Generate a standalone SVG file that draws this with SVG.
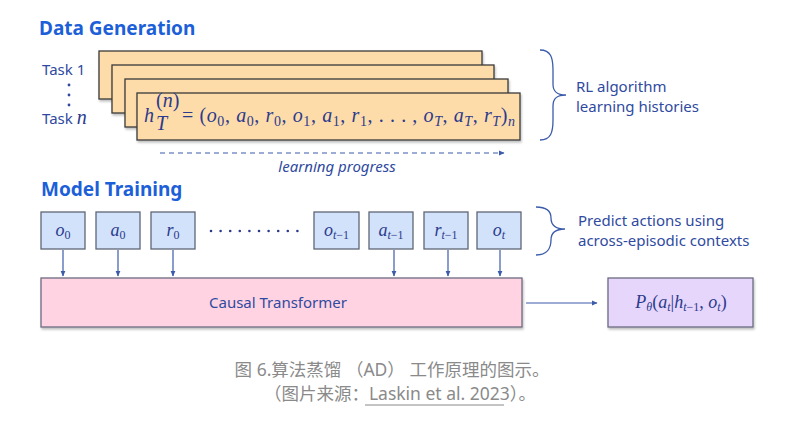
<svg xmlns="http://www.w3.org/2000/svg" width="809" height="423" viewBox="0 0 809 423">
<defs>
<filter id="sh" x="-5%" y="-10%" width="110%" height="130%">
<feDropShadow dx="1" dy="2" stdDeviation="1.2" flood-color="#000" flood-opacity="0.25"/>
</filter>
<marker id="ah" markerWidth="6" markerHeight="6" refX="5" refY="3" orient="auto" markerUnits="userSpaceOnUse">
<path d="M0,0.6 L5.5,3 L0,5.4 Z" fill="#3b5bab"/>
</marker>
<style>
.title{font-family:"Noto Sans","Liberation Sans",sans-serif;font-weight:bold;font-size:19px;fill:#1d5fd8}
.lbl{font-family:"Noto Sans","Liberation Sans",sans-serif;font-size:15px;fill:#2f4aa0}
.m{font-family:"Liberation Serif","DejaVu Serif",serif;font-style:italic;font-size:20px;fill:#2b3a8c}
.u{font-style:normal}
.s{font-size:14px;font-style:normal}
.si{font-size:14px}
.card{fill:#fddcaa;stroke:#3a3a3a;stroke-width:1.3}
.tok{fill:#d2e2fb;stroke:#5f6675;stroke-width:1.3}
.bm{font-family:"Liberation Serif","DejaVu Serif",serif;font-style:italic;font-size:18px;fill:#2b3a8c}
.bs{font-size:12px;font-style:normal}
.bsi{font-size:12px}
.con{stroke:#3b5bab;stroke-width:1.2;fill:none}
.brace{stroke:#3b5bab;stroke-width:1.3;fill:none}
.cap{font-family:"Noto Sans","Noto Sans CJK SC",sans-serif;font-size:17.5px;fill:#8a8a8a}
</style>
</defs>
<rect width="809" height="423" fill="#ffffff"/>

<g id="data-generation-title"><text class="title" x="39" y="35">Data Generation</text></g>

<g id="task-labels">
<text class="lbl" x="42" y="75">Task 1</text>
<circle cx="69" cy="85" r="1.4" fill="#2f4aa0"/>
<circle cx="69" cy="95" r="1.4" fill="#2f4aa0"/>
<circle cx="69" cy="105" r="1.4" fill="#2f4aa0"/>
<text class="lbl" x="42" y="124">Task <tspan class="m" font-size="19">n</tspan></text>
</g>

<g id="history-cards">
<rect class="card" x="99" y="51" width="383" height="48" filter="url(#sh)"/>
<rect class="card" x="112" y="65" width="382" height="48" filter="url(#sh)"/>
<rect class="card" x="125" y="79" width="383" height="48" filter="url(#sh)"/>
<rect class="card" x="137" y="93" width="383" height="47" filter="url(#sh)"/>
<text class="m" x="144" y="122">h</text>
<text class="m" x="156" y="107" font-size="12"><tspan class="u">(</tspan>n<tspan class="u">)</tspan></text>
<text class="m" x="156" y="130" font-size="13">T</text>
<text class="m" x="182" y="122" textLength="333" lengthAdjust="spacing"><tspan class="u">= (</tspan>o<tspan class="s" dy="4">0</tspan><tspan class="u" dy="-4">, </tspan>a<tspan class="s" dy="4">0</tspan><tspan class="u" dy="-4">, </tspan>r<tspan class="s" dy="4">0</tspan><tspan class="u" dy="-4">, </tspan>o<tspan class="s" dy="4">1</tspan><tspan class="u" dy="-4">, </tspan>a<tspan class="s" dy="4">1</tspan><tspan class="u" dy="-4">, </tspan>r<tspan class="s" dy="4">1</tspan><tspan class="u" dy="-4">, . . . , </tspan>o<tspan class="si" dy="4">T</tspan><tspan class="u" dy="-4">, </tspan>a<tspan class="si" dy="4">T</tspan><tspan class="u" dy="-4">, </tspan>r<tspan class="si" dy="4">T</tspan><tspan class="u" dy="-4">)</tspan><tspan class="si" dy="4">n</tspan></text>
</g>

<g id="learning-progress">
<line class="con" x1="160" y1="153" x2="504" y2="153" stroke-dasharray="5,4" marker-end="url(#ah)"/>
<text class="lbl" x="337" y="172" text-anchor="middle" font-style="italic">learning progress</text>
</g>

<g id="brace-histories">
<path class="brace" d="M540,50 C551,50 553,58 553,70 L553,84 C553,92 557,95 566,95 C557,95 553,98 553,106 L553,120 C553,132 551,140 540,140"/>
<text class="lbl" x="576" y="92">RL algorithm</text>
<text class="lbl" x="576" y="112">learning histories</text>
</g>

<g id="model-training-title"><text class="title" x="41" y="196">Model Training</text></g>

<g id="token-o0"><rect class="tok" x="41" y="212" width="44" height="37"/><text class="bm" x="63" y="236" text-anchor="middle">o<tspan class="bs" dy="3">0</tspan></text></g>
<g id="token-a0"><rect class="tok" x="96" y="212" width="44" height="37"/><text class="bm" x="118" y="236" text-anchor="middle">a<tspan class="bs" dy="3">0</tspan></text></g>
<g id="token-r0"><rect class="tok" x="151" y="212" width="44" height="37"/><text class="bm" x="173" y="236" text-anchor="middle">r<tspan class="bs" dy="3">0</tspan></text></g>
<g id="ellipsis" fill="#2b3a8c">
<circle cx="211" cy="231" r="1.3"/><circle cx="220.6" cy="231" r="1.3"/><circle cx="230.2" cy="231" r="1.3"/><circle cx="239.8" cy="231" r="1.3"/><circle cx="249.4" cy="231" r="1.3"/><circle cx="259" cy="231" r="1.3"/><circle cx="268.6" cy="231" r="1.3"/><circle cx="278.2" cy="231" r="1.3"/><circle cx="287.8" cy="231" r="1.3"/><circle cx="297.4" cy="231" r="1.3"/>
</g>
<g id="token-ot-1"><rect class="tok" x="314" y="212" width="45" height="37"/><text class="bm" x="336.5" y="236" text-anchor="middle">o<tspan class="bsi" dy="3">t</tspan><tspan class="bs">−1</tspan></text></g>
<g id="token-at-1"><rect class="tok" x="369" y="212" width="44" height="37"/><text class="bm" x="391" y="236" text-anchor="middle">a<tspan class="bsi" dy="3">t</tspan><tspan class="bs">−1</tspan></text></g>
<g id="token-rt-1"><rect class="tok" x="424" y="212" width="44" height="37"/><text class="bm" x="446" y="236" text-anchor="middle">r<tspan class="bsi" dy="3">t</tspan><tspan class="bs">−1</tspan></text></g>
<g id="token-ot"><rect class="tok" x="477" y="212" width="44" height="37"/><text class="bm" x="499" y="236" text-anchor="middle">o<tspan class="bsi" dy="3">t</tspan></text></g>

<g id="brace-predict">
<path class="brace" d="M536,207 C547,207 551,212 551,218 C551,225 556,229 565,229 C556,229 551,233 551,240 C551,248 547,255 536,255"/>
<text class="lbl" x="578" y="226">Predict actions using</text>
<text class="lbl" x="578" y="246">across-episodic contexts</text>
</g>

<g id="causal-transformer">
<rect x="41" y="278" width="481" height="49" fill="#ffd3e2" stroke="#6b6b80" stroke-width="1.3" filter="url(#sh)"/>
<text class="lbl" x="278" y="308" text-anchor="middle">Causal Transformer</text>
</g>

<g id="output-policy">
<rect x="608" y="278" width="145" height="49" fill="#e6d6fb" stroke="#6b6b80" stroke-width="1.3" filter="url(#sh)"/>
<text class="bm" x="681" y="308" text-anchor="middle">P<tspan class="bsi" dy="3">θ</tspan><tspan class="u" dy="-3">(</tspan>a<tspan class="bsi" dy="3">t</tspan><tspan class="u" dy="-3">|</tspan>h<tspan class="bsi" dy="3">t</tspan><tspan class="bs">−1</tspan><tspan class="u" dy="-3">, </tspan>o<tspan class="bsi" dy="3">t</tspan><tspan class="u" dy="-3">)</tspan></text>
</g>

<g id="connectors">
<line class="con" x1="63" y1="250" x2="63" y2="276" marker-end="url(#ah)"/>
<line class="con" x1="118" y1="250" x2="118" y2="276" marker-end="url(#ah)"/>
<line class="con" x1="173" y1="250" x2="173" y2="276" marker-end="url(#ah)"/>
<line class="con" x1="394" y1="250" x2="394" y2="276" marker-end="url(#ah)"/>
<line class="con" x1="448" y1="250" x2="448" y2="276" marker-end="url(#ah)"/>
<line class="con" x1="500" y1="250" x2="500" y2="276" marker-end="url(#ah)"/>
<line class="con" x1="526" y1="303" x2="597" y2="303" marker-end="url(#ah)"/>
</g>

<g id="caption">
<text class="cap" x="392" y="376" text-anchor="middle">图 6.算法蒸馏 （AD） 工作原理的图示。</text>
<text class="cap" x="400" y="400" text-anchor="middle">（图片来源：Laskin et al. 2023）。</text>
<line x1="365" y1="405" x2="504" y2="405" stroke="#8a8a8a" stroke-width="1"/>
</g>
</svg>
